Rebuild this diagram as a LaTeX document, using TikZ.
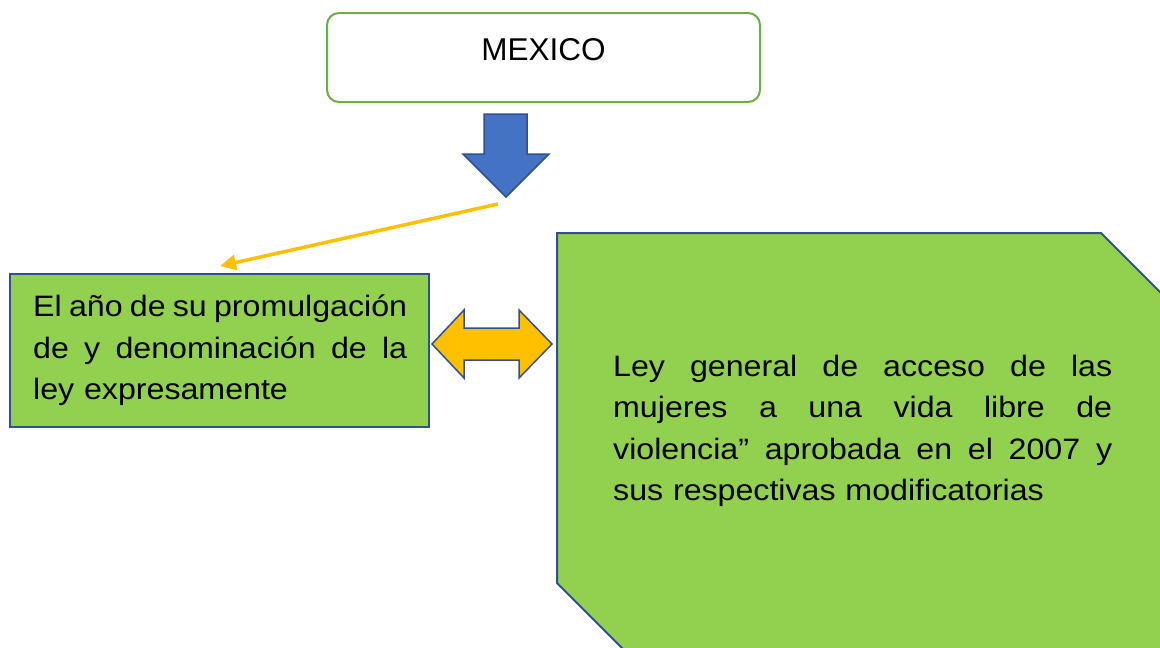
\documentclass[tikz,border=0pt]{standalone}
\usepackage{fontspec}
\setmainfont{Liberation Sans}
\newfontfamily\bodyfont[FakeStretch=1.09]{Liberation Sans}
\usetikzlibrary{arrows.meta}
\definecolor{lgreen}{HTML}{92D050}
\definecolor{mgreen}{HTML}{70AD47}
\definecolor{dblue}{HTML}{2F528F}
\definecolor{bblue}{HTML}{4472C4}
\definecolor{ygold}{HTML}{FFC000}
\newcommand\jline[2]{\leavevmode\hbox to #1{#2}}
\begin{document}
\begin{tikzpicture}[x=1pt,y=-1pt,
  boxline/.style={draw=dblue, line width=2pt, line join=miter},
  bodytext/.style={font=\bodyfont\fontsize{29.5}{41.6}\selectfont, inner sep=0pt, align=left, anchor=base west},
  blockarrow/.style={draw=dblue, line width=1.5pt, line join=miter},
  yarrow/.style={draw=ygold, line width=3.5pt, -{Triangle[length=16pt,width=15pt]}}]
\useasboundingbox (0,0) rectangle (1160,648);
\fill[white] (0,0) rectangle (1160,648);
% right snipped shape
\begin{scope}
\clip (0,0) rectangle (1160,648);
\draw[boxline, fill=lgreen] (557,233) -- (1101,233) -- (1180,312) -- (1180,670) -- (644,670) -- (557,583) -- cycle;
\end{scope}
% top box
\node[draw=mgreen, line width=2pt, rounded corners=12pt, minimum width=433pt, minimum height=89pt, inner sep=0pt] (mexico) at (543.5,57.5) {};
\node[font=\fontsize{31.5}{38}\selectfont, anchor=base, inner sep=0pt] (mexicotext) at (543.5,60) {MEXICO};
% blue down arrow
\draw[blockarrow, fill=bblue] (484,114) -- (527,114) -- (527,154) -- (549,154) -- (506,197) -- (463,154) -- (484,154) -- cycle;
% yellow connector
\coordinate (ystart) at (498,204);
\coordinate (yend) at (220,266);
\draw[yarrow] (ystart) -- (yend);
% left box
\node[boxline, fill=lgreen, minimum width=419pt, minimum height=153pt, inner sep=0pt] (leftbox) at (219.5,350.5) {};
\node[bodytext, text width=374pt] (lefttext) at (33,316.7) {\jline{374pt}{El\hfill año\hfill de\hfill su\hfill promulgación}\\\jline{374pt}{de\hfill y\hfill denominación\hfill de\hfill la}\\ley expresamente};
% double arrow
\draw[blockarrow, fill=ygold] (432,344) -- (464,310) -- (464,328) -- (519,328) -- (519,310) -- (552,344) -- (519,378) -- (519,360) -- (464,360) -- (464,378) -- cycle;
% right text
\node[bodytext, text width=499pt] (righttext) at (613,376) {\jline{499pt}{Ley\hfill general\hfill de\hfill acceso\hfill de\hfill las}\\\jline{499pt}{mujeres\hfill a\hfill una\hfill vida\hfill libre\hfill de}\\\jline{499pt}{violencia”\hfill aprobada\hfill en\hfill el\hfill 2007\hfill y}\\sus respectivas modificatorias};
\end{tikzpicture}
\end{document}
